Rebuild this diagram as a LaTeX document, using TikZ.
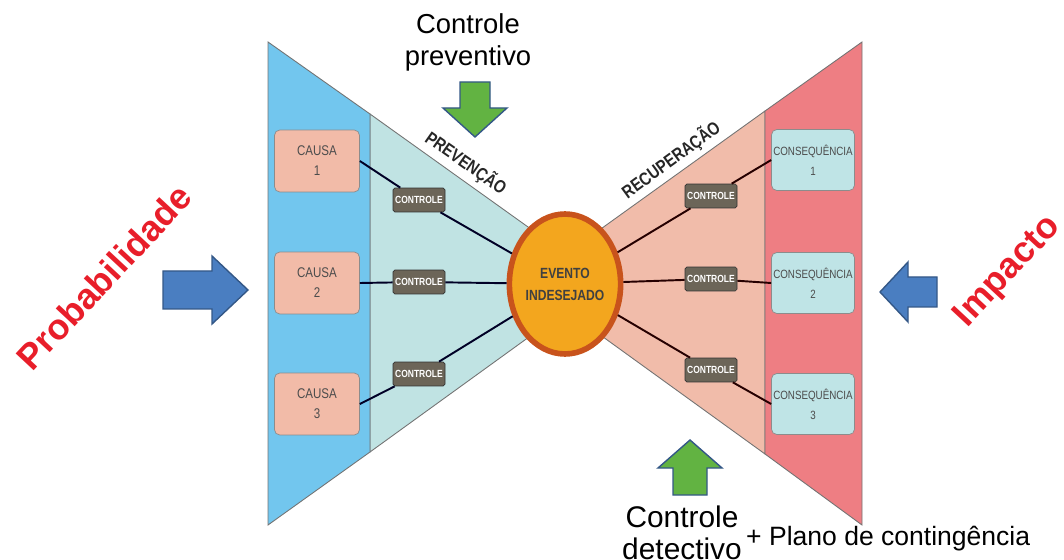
\documentclass[tikz,border=0pt]{standalone}
\usepackage{fontspec}
\setmainfont{Liberation Sans}
\newfontfamily\condfont[FakeStretch=0.82]{Liberation Sans}
\usetikzlibrary{shapes.geometric}

\definecolor{causeblue}{HTML}{72C6EE}
\definecolor{prevcyan}{HTML}{C0E3E3}
\definecolor{recsalmon}{HTML}{F1BCAA}
\definecolor{conspink}{HTML}{EE7E83}
\definecolor{boxsalmon}{HTML}{F2BBA8}
\definecolor{boxcyan}{HTML}{BFE4E6}
\definecolor{ctrlgrey}{HTML}{6C6558}
\definecolor{eventorange}{HTML}{F3A61E}
\definecolor{eventrim}{HTML}{C8531C}
\definecolor{arrowblue}{HTML}{4A7EC1}
\definecolor{arrowgreen}{HTML}{62B342}
\definecolor{labelred}{HTML}{E81E2A}

\begin{document}
\begin{tikzpicture}
	[x=0.02cm, y=-0.02cm,
	panel/.style={draw=black!55, line width=0.5pt},
	cause/.style={rectangle, draw=black!45, fill=boxsalmon, rounded corners=3pt, minimum width=1.7cm, minimum height=1.24cm, inner sep=1pt, align=center, text=black!70, font=\condfont\fontsize{8}{11.3}\selectfont},
	conseq/.style={cause, fill=boxcyan, minimum width=1.66cm, minimum height=1.22cm, font=\condfont\fontsize{6.8}{11.3}\selectfont},
	ctrl/.style={rectangle, draw=black!80, fill=ctrlgrey, rounded corners=1pt, minimum width=1.04cm, minimum height=0.48cm, inner sep=0pt, text=white, font=\condfont\bfseries\fontsize{5.9}{6}\selectfont},
	event/.style={ellipse, draw=eventrim, line width=3.2pt, fill=eventorange, minimum width=1.98cm, minimum height=2.8cm, inner sep=0pt, align=center, text=black!75, font=\condfont\bfseries\fontsize{8.4}{12.5}\selectfont},
	link/.style={line width=1.1pt, draw=black!85!blue},
	bluearrow/.style={draw=arrowblue!70!black, line width=0.8pt, fill=arrowblue},
	greenarrow/.style={draw=arrowblue!70!black, line width=0.8pt, fill=arrowgreen},
	phase/.style={text=black!85, font=\condfont\bfseries\fontsize{10.3}{12}\selectfont},
	caption/.style={align=center, font=\fontsize{15.6}{18.2}\selectfont},
	side/.style={text=labelred, rotate=47, font=\bfseries\fontsize{20.4}{24}\selectfont}]

	\useasboundingbox (0,0) rectangle (1064,560);

	% bow tie
	\draw[panel, fill=recsalmon] (527,282) -- (765,111) -- (765,454) -- cycle;
	\draw[panel, fill=conspink] (765,111) -- (862,42) -- (862,525) -- (765,454) -- cycle;
	\draw[panel, fill=prevcyan] (370,114) -- (605,282) -- (370,452) -- cycle;
	\draw[panel, fill=causeblue] (268,42) -- (370,114) -- (370,452) -- (268,525) -- cycle;

	\node[phase, rotate=-35] (prevencao) at (466,163) {PREVENÇÃO};
	\node[phase, rotate=36] (recuperacao) at (671,160) {RECUPERAÇÃO};

	% causes and consequences
	\node[cause] (causa1) at (317,161) {CAUSA\\1};
	\node[cause] (causa2) at (317,283) {CAUSA\\2};
	\node[cause] (causa3) at (317,404) {CAUSA\\3};
	\node[conseq] (cons1) at (813,160) {CONSEQUÊNCIA\\1};
	\node[conseq] (cons2) at (813,283) {CONSEQUÊNCIA\\2};
	\node[conseq] (cons3) at (813,404) {CONSEQUÊNCIA\\3};

	\node[event] (evento) at (565,284) {EVENTO\\INDESEJADO};

	% barriers
	\node[ctrl] (ctrlA) at (419,200) {CONTROLE};
	\node[ctrl] (ctrlB) at (419,282) {CONTROLE};
	\node[ctrl] (ctrlC) at (419,374) {CONTROLE};
	\node[ctrl] (ctrlD) at (711,196) {CONTROLE};
	\node[ctrl] (ctrlE) at (711,279) {CONTROLE};
	\node[ctrl] (ctrlF) at (711,370) {CONTROLE};

	\draw[link] (causa1.east) -- (ctrlA);
	\draw[link] (ctrlA) -- (evento);
	\draw[link] (causa2.east) -- (ctrlB);
	\draw[link] (ctrlB) -- (evento);
	\draw[link] (causa3.east) -- (ctrlC);
	\draw[link] (ctrlC) -- (evento);
	\draw[link, draw=black!85!red] (evento) -- (ctrlD);
	\draw[link, draw=black!85!red] (ctrlD) -- (cons1.west);
	\draw[link, draw=black!85!red] (evento) -- (ctrlE);
	\draw[link, draw=black!85!red] (ctrlE) -- (cons2.west);
	\draw[link, draw=black!85!red] (evento) -- (ctrlF);
	\draw[link, draw=black!85!red] (ctrlF) -- (cons3.west);

	% block arrows
	\draw[bluearrow] (163,271) -- (212,271) -- (212,256) -- (248,290) -- (212,324) -- (212,309) -- (163,309) -- cycle;
	\draw[bluearrow] (937,277) -- (908,277) -- (908,262) -- (880,292) -- (908,322) -- (908,307) -- (937,307) -- cycle;
	\draw[greenarrow] (460,82) -- (490,82) -- (490,108) -- (507,108) -- (475,137) -- (443,108) -- (460,108) -- cycle;
	\draw[greenarrow] (673,495) -- (707,495) -- (707,468) -- (722,468) -- (690,440) -- (658,468) -- (673,468) -- cycle;

	% texts
	\node[caption] (prevtxt) at (468,42) {Controle\\preventivo};
	\node[caption, font=\fontsize{17}{18.5}\selectfont] (dettxt) at (682,533) {Controle\\detectivo};
	\node[caption, font=\fontsize{15.1}{18}\selectfont, anchor=base west] (plano) at (740,545) {+ Plano de contingência};
	\node[side] (prob) at (104,277) {Probabilidade};
	\node[side] (impacto) at (1008,272) {Impacto};
\end{tikzpicture}
\end{document}
